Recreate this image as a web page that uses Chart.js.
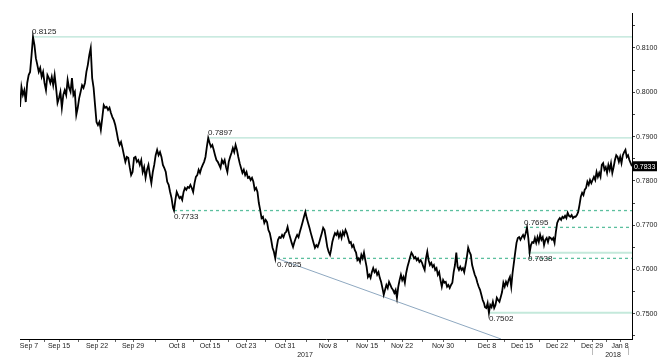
<!DOCTYPE html>
<html>
<head>
<meta charset="utf-8">
<script src="https://cdn.jsdelivr.net/npm/chart.js@4.4.0/dist/chart.umd.min.js"></script>
<style>
    html, body { margin: 0; padding: 0; background: #fff; }
</style>
</head>
<body>
<canvas id="fxChart" width="671" height="364"></canvas>
<script>
// price series, split into four stretches
const sepPrices = [
    0.7967, 0.8012, 0.7994, 0.8005, 0.7978, 0.8021, 0.8039, 0.8046, 0.8084, 0.8125,
    0.8107, 0.8077, 0.8062, 0.8046, 0.8055, 0.8035, 0.8046, 0.8021, 0.8005, 0.8039,
    0.8032, 0.8021, 0.8035, 0.8016, 0.8039, 0.8010, 0.7976, 0.7987, 0.8001, 0.7965,
    0.7994, 0.8005, 0.7994, 0.8028, 0.8010, 0.8001, 0.8032, 0.7994, 0.8001, 0.7949,
    0.7965, 0.7987, 0.8001, 0.8016, 0.8010, 0.8021, 0.8046, 0.8062, 0.8084, 0.8100,
    0.8032, 0.8010, 0.7971, 0.7933, 0.7926, 0.7933, 0.7915, 0.7942, 0.7971, 0.7965,
    0.7967, 0.7960, 0.7965, 0.7953, 0.7944, 0.7937, 0.7926, 0.7910, 0.7892, 0.7881,
    0.7888, 0.7874, 0.7858, 0.7843, 0.7854, 0.7852, 0.7831, 0.7813, 0.7820, 0.7852,
    0.7854, 0.7843, 0.7847, 0.7836, 0.7847, 0.7820, 0.7831, 0.7807, 0.7825, 0.7836,
    0.7813, 0.7795, 0.7820, 0.7836, 0.7858, 0.7870, 0.7858, 0.7865, 0.7854, 0.7836,
    0.7829, 0.7820, 0.7798, 0.7791, 0.7775, 0.7761, 0.7739
];
const octPrices = [
    0.7733, 0.7757, 0.7775, 0.7768, 0.7761, 0.7764, 0.7757, 0.7775, 0.7784, 0.7780,
    0.7786, 0.7784, 0.7791, 0.7784, 0.7775, 0.7795, 0.7809, 0.7813, 0.7825, 0.7818,
    0.7829, 0.7836, 0.7843, 0.7854, 0.7877, 0.7897, 0.7886, 0.7877, 0.7881, 0.7870,
    0.7858, 0.7847, 0.7843, 0.7836, 0.7829, 0.7847, 0.7840, 0.7847, 0.7831, 0.7820,
    0.7843, 0.7854, 0.7863, 0.7874, 0.7865, 0.7881, 0.7870, 0.7854, 0.7840, 0.7829,
    0.7818, 0.7825, 0.7813, 0.7820, 0.7807, 0.7809, 0.7802, 0.7807, 0.7798, 0.7780,
    0.7784, 0.7775, 0.7750, 0.7734, 0.7716, 0.7719, 0.7705, 0.7712, 0.7707, 0.7689,
    0.7682, 0.7667, 0.7649, 0.7640, 0.7625, 0.7649, 0.7667, 0.7673, 0.7671, 0.7678,
    0.7673, 0.7682, 0.7685, 0.7696, 0.7682, 0.7671, 0.7660, 0.7651, 0.7662, 0.7671,
    0.7678, 0.7673, 0.7685, 0.7696, 0.7707, 0.7719, 0.7730, 0.7716, 0.7705, 0.7694,
    0.7682, 0.7671, 0.7660, 0.7649, 0.7655, 0.7651, 0.7660, 0.7671, 0.7682, 0.7694,
    0.7689, 0.7671, 0.7651, 0.7640, 0.7633
];
const novPrices = [
    0.7644, 0.7662, 0.7673, 0.7682, 0.7678, 0.7685, 0.7673, 0.7682, 0.7671, 0.7685,
    0.7678, 0.7689, 0.7682, 0.7671, 0.7660, 0.7662, 0.7651, 0.7655, 0.7644, 0.7638,
    0.7621, 0.7625, 0.7617, 0.7633, 0.7625, 0.7638, 0.7621, 0.7606, 0.7583, 0.7588,
    0.7581, 0.7594, 0.7603, 0.7594, 0.7599, 0.7588, 0.7594, 0.7581, 0.7572, 0.7558,
    0.7543, 0.7554, 0.7565, 0.7558, 0.7572, 0.7565, 0.7558, 0.7554, 0.7547, 0.7554,
    0.7536, 0.7561, 0.7576, 0.7588, 0.7576, 0.7583, 0.7570, 0.7592, 0.7606, 0.7617,
    0.7628, 0.7638, 0.7633, 0.7625, 0.7628, 0.7621, 0.7625, 0.7617, 0.7621, 0.7615,
    0.7606, 0.7599, 0.7625, 0.7640, 0.7621, 0.7610, 0.7615, 0.7606, 0.7610, 0.7599,
    0.7603, 0.7588, 0.7594, 0.7576, 0.7561, 0.7576, 0.7570, 0.7572, 0.7561, 0.7565,
    0.7558, 0.7565, 0.7570, 0.7594, 0.7610, 0.7638, 0.7606, 0.7599, 0.7606, 0.7599,
    0.7603, 0.7594, 0.7610, 0.7628, 0.7649, 0.7640, 0.7633, 0.7610, 0.7599, 0.7588,
    0.7581, 0.7570, 0.7561, 0.7554, 0.7543, 0.7531, 0.7524
];
const decPrices = [
    0.7515, 0.7513, 0.7524, 0.7502, 0.7520, 0.7515, 0.7527, 0.7513, 0.7520, 0.7536,
    0.7531, 0.7527, 0.7538, 0.7549, 0.7570, 0.7561, 0.7572, 0.7565, 0.7576, 0.7583,
    0.7561, 0.7592, 0.7615, 0.7638, 0.7660, 0.7671, 0.7673, 0.7667, 0.7673, 0.7678,
    0.7671, 0.7682, 0.7695, 0.7671, 0.7638, 0.7655, 0.7662, 0.7660, 0.7671, 0.7660,
    0.7673, 0.7662, 0.7678, 0.7667, 0.7673, 0.7655, 0.7667, 0.7671, 0.7662, 0.7673,
    0.7671, 0.7667, 0.7671, 0.7660, 0.7685, 0.7705, 0.7712, 0.7716, 0.7712, 0.7719,
    0.7716, 0.7721, 0.7716, 0.7728, 0.7721, 0.7719, 0.7723, 0.7716, 0.7719, 0.7719,
    0.7723, 0.7730, 0.7746, 0.7764, 0.7773, 0.7768, 0.7780, 0.7784, 0.7798, 0.7791,
    0.7802, 0.7795, 0.7802, 0.7809, 0.7802, 0.7820, 0.7809, 0.7818, 0.7809, 0.7836,
    0.7840, 0.7825, 0.7831, 0.7818, 0.7836, 0.7825, 0.7840, 0.7818, 0.7831, 0.7847,
    0.7858, 0.7854, 0.7843, 0.7854, 0.7840, 0.7858, 0.7865, 0.7870, 0.7854, 0.7858,
    0.7847, 0.7840, 0.7833
];
// bar range covered by each stretch
const stretchStart = [0, 154, 311, 465];
const stretchEnd = [153, 310, 464, 612];

// x axis labels (bar positions)
const dateTickBars = [9, 39, 77, 113, 157, 190, 226, 265, 308, 347, 382, 423, 467, 502, 537, 572, 600];
const dateTickLabels = ['Sep 7', 'Sep 15', 'Sep 22', 'Sep 29', 'Oct 8', 'Oct 15', 'Oct 23', 'Oct 31', 'Nov 8',
    'Nov 15', 'Nov 22', 'Nov 30', 'Dec 8', 'Dec 15', 'Dec 22', 'Dec 29', 'Jan 8'];
const yearTickBars = [285, 593];
const yearLabels = ['2017', '2018'];
const yearDividers = [572, 608];

const yTickValues = [0.745, 0.750, 0.755, 0.760, 0.765, 0.770, 0.775, 0.780, 0.785, 0.790, 0.795, 0.800, 0.805, 0.810, 0.815];
const yTickLabels = ['', '0.7500', '', '0.7600', '', '0.7700', '', '0.7800', '', '0.7900', '', '0.8000', '', '0.8100', ''];

// support / resistance levels
const levelValues = [0.8125, 0.7897, 0.7733, 0.7625, 0.7695, 0.7638, 0.7502];
const levelStartBars = [12, 188, 154, 257, 504, 508, 469];
const levelDashed = [false, false, true, true, true, false, false];
const levelThick = [false, false, false, false, false, true, true];
const levelLabelBelow = [false, false, true, true, false, true, true];

const trendStart = { x: 257, y: 0.7625 };
const trendEnd = { x: 481, y: 0.7443 };

const LAST_BAR = 612;

function buildSeries() {
    const parts = [sepPrices, octPrices, novPrices, decPrices];
    const pts = [];
    parts.forEach((arr, k) => {
        const span = stretchEnd[k] - stretchStart[k];
        arr.forEach((v, i) => {
            pts.push({ x: stretchStart[k] + span * i / (arr.length - 1), y: v });
        });
    });
    return pts;
}

const xTicks = [];
dateTickBars.forEach((b, i) => xTicks.push({ value: b, label: dateTickLabels[i], kind: 'date' }));
for (let i = 0; i < dateTickBars.length - 1; i++) {
    xTicks.push({ value: (dateTickBars[i] + dateTickBars[i + 1]) / 2, label: '', kind: 'minor' });
}
yearTickBars.forEach((b, i) => xTicks.push({ value: b, label: ['', yearLabels[i]], kind: 'year' }));

const levelSets = levelValues.map((v, i) => ({
    data: [{ x: levelStartBars[i], y: v }, { x: LAST_BAR, y: v }],
    borderColor: levelDashed[i] ? '#5cbf9e' : (levelThick[i] ? '#c4e9db' : '#a6dccb'),
    borderWidth: levelThick[i] ? 2 : (levelDashed[i] ? 1.3 : 1),
    borderDash: levelDashed[i] ? [3, 3] : [],
    pointRadius: 0,
    order: 2
}));

const annotatePlugin = {
    id: 'annotate',
    afterDraw(chart) {
        const ctx = chart.ctx;
        const xs = chart.scales.x;
        const ys = chart.scales.y;
        ctx.save();
        ctx.font = '8px "Liberation Sans", Arial, sans-serif';
        ctx.fillStyle = '#222';
        ctx.textAlign = 'left';
        levelValues.forEach((v, i) => {
            const px = xs.getPixelForValue(levelStartBars[i]);
            const py = ys.getPixelForValue(v);
            if (levelLabelBelow[i]) {
                ctx.textBaseline = 'top';
                ctx.fillText(v.toFixed(4), px, py + 2);
            } else {
                ctx.textBaseline = 'bottom';
                ctx.fillText(v.toFixed(4), px, py - 1);
            }
        });

        // year dividers under the date labels
        ctx.strokeStyle = '#bbb';
        ctx.lineWidth = 1;
        yearDividers.forEach(b => {
            const px = Math.round(xs.getPixelForValue(b)) + 0.5;
            ctx.beginPath();
            ctx.moveTo(px, xs.top + 8);
            ctx.lineTo(px, xs.top + 16);
            ctx.stroke();
        });

        // last price tag
        const last = decPrices[decPrices.length - 1];
        const ly = ys.getPixelForValue(last);
        ctx.fillStyle = '#000';
        ctx.fillRect(ys.left + 1, ly - 5, 24, 10);
        ctx.fillStyle = '#fff';
        ctx.font = '7px "Liberation Sans", Arial, sans-serif';
        ctx.textBaseline = 'middle';
        ctx.fillText(last.toFixed(4), ys.left + 2, ly + 0.5);
        ctx.restore();
    }
};

const ctx = document.getElementById('fxChart').getContext('2d');
new Chart(ctx, {
    type: 'line',
    data: {
        datasets: [
            {
                data: buildSeries(),
                borderColor: '#000',
                borderWidth: 1.8,
                pointRadius: 0,
                tension: 0,
                order: 0
            },
            ...levelSets,
            {
                data: [trendStart, trendEnd],
                borderColor: '#8ea8c0',
                borderWidth: 1,
                pointRadius: 0,
                order: 1
            }
        ]
    },
    options: {
        responsive: false,
        animation: false,
        layout: { padding: { left: 20, top: 13, right: 0, bottom: 0 } },
        plugins: { legend: { display: false }, tooltip: { enabled: false } },
        scales: {
            x: {
                type: 'linear',
                min: 0,
                max: LAST_BAR,
                afterFit: s => { s.height = 25; },
                afterBuildTicks: s => { s.ticks = xTicks.map(t => ({ value: t.value })); },
                ticks: {
                    autoSkip: false,
                    maxRotation: 0,
                    padding: 0,
                    color: '#222',
                    font: { family: '"Liberation Sans", Arial, sans-serif', size: 7 },
                    callback: (v, i) => xTicks[i].label
                },
                grid: {
                    drawOnChartArea: false,
                    tickLength: 3,
                    tickColor: c => (xTicks[c.index] && xTicks[c.index].kind === 'year') ? 'rgba(0,0,0,0)' : '#666'
                },
                border: { color: '#000', width: 1 }
            },
            y: {
                position: 'right',
                min: 0.7443,
                max: 0.8179,
                afterFit: s => { s.width = 39; },
                afterBuildTicks: s => { s.ticks = yTickValues.map(v => ({ value: v })); },
                ticks: {
                    padding: 1,
                    color: '#222',
                    font: { family: '"Liberation Sans", Arial, sans-serif', size: 7 },
                    callback: (v, i) => yTickLabels[i]
                },
                grid: { drawOnChartArea: false, tickLength: 3, tickColor: '#444' },
                border: { color: '#000', width: 1 }
            }
        }
    },
    plugins: [annotatePlugin]
});
</script>
</body>
</html>
